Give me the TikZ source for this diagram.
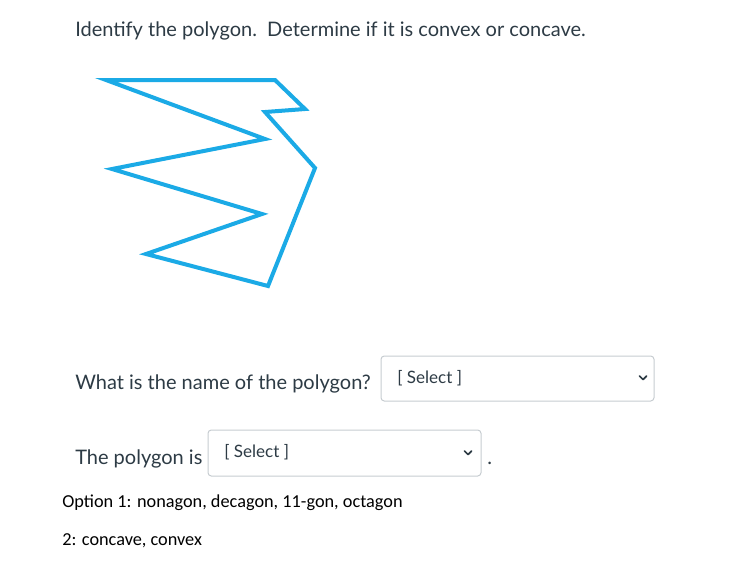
\documentclass[tikz,border=0pt]{standalone}
\usepackage{fontspec}
\setmainfont{Lato}
\newfontfamily\calibri{Carlito}
\usetikzlibrary{positioning}

\definecolor{polyblue}{RGB}{27,170,230}
\definecolor{canvastext}{RGB}{45,59,69}
\definecolor{boxgray}{RGB}{199,205,209}

\tikzset{
  question/.style={anchor=base west, inner sep=0pt, text=canvastext, font=\fontsize{15}{18}\selectfont},
  selectbox/.style={draw=boxgray, line width=0.75pt, rounded corners=2.5pt},
  selecttext/.style={anchor=west, inner sep=0pt, text=canvastext, font=\fontsize{12.8}{15}\selectfont},
  optiontext/.style={anchor=west, inner sep=0pt, font=\calibri\fontsize{13.7}{16}\selectfont},
  chevron/.style={line width=1.3pt, canvastext, line cap=round, line join=round}
}

\begin{document}
\begin{tikzpicture}[x=0.75pt, y=-0.75pt]
             \useasboundingbox (0, 0) rectangle (737, 576);
             \fill[white] (0, 0) rectangle (737, 576);
             \node[question] (title) at (75, 36) {Identify the polygon.\ \ Determine if it is convex or concave.};
             %polygon
             \coordinate (p1) at (106, 80);
             \coordinate (p2) at (275, 80);
             \coordinate (p3) at (305, 109);
             \coordinate (p4) at (265, 112);
             \coordinate (p5) at (315, 168);
             \coordinate (p6) at (268, 286);
             \coordinate (p7) at (146, 254);
             \coordinate (p8) at (262, 214);
             \coordinate (p9) at (112, 169);
             \coordinate (p10) at (265, 139);
             \draw[polyblue, line width=3pt, line join=miter]
                 (p1) -- (p2) -- (p3) -- (p4) -- (p5) -- (p6) -- (p7) -- (p8) -- (p9) -- (p10) -- cycle;
             %first question
             \node[question] (name) at (75, 389) {What is the name of the polygon?};
             \draw[selectbox] (381, 356) rectangle (654, 401);
             \node[selecttext] (select1) at (397, 378) {[ Select ]};
             \draw[chevron] (639.5, 376) -- (643, 379.5) -- (646.5, 376);
             %second question
             \node[question] (kind) at (75, 464) {The polygon is};
             \draw[selectbox] (208, 430) rectangle (481, 476);
             \node[selecttext] (select2) at (224, 452) {[ Select ]};
             \draw[chevron] (464.5, 451) -- (468, 454.5) -- (471.5, 451);
             \node[question, anchor=base west] (dot) at (487, 464) {.};
             %options
             \node[optiontext] (opt1) at (62, 503) {Option 1: nonagon, decagon, 11-gon, octagon};
             \node[optiontext] (opt2) at (62, 541) {2: concave, convex};
         \end{tikzpicture}
\end{document}
